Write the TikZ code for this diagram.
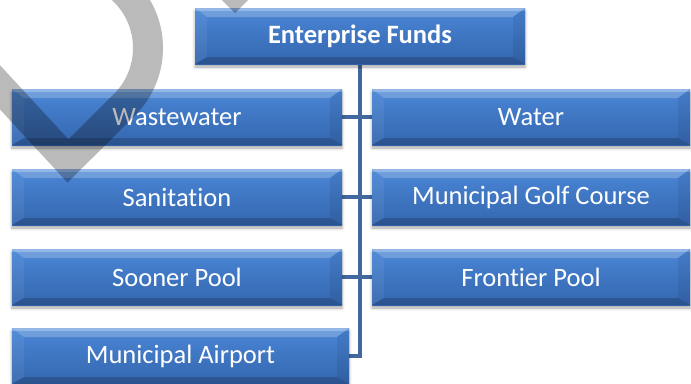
\documentclass[tikz,border=0pt]{standalone}
\usepackage{fontspec}
\setmainfont[Ligatures={NoCommon}]{Carlito}
\usetikzlibrary{shadows.blur,calc}
\definecolor{boxtop}{RGB}{74,134,214}
\definecolor{boxbot}{RGB}{52,102,174}
\definecolor{connblue}{RGB}{65,105,158}
\pgfdeclarelayer{bg}
\pgfdeclarelayer{fg}
\pgfsetlayers{bg,main,fg}
\tikzset{
  fundbox/.style={minimum width=#1, minimum height=56pt, inner sep=0pt,
    top color=boxtop, bottom color=boxbot, text=white,
    font=\fontsize{26.5}{30}\selectfont,
    blur shadow={shadow xshift=0pt, shadow yshift=-3pt, shadow blur radius=3pt, shadow opacity=35},
    path picture={
      \fill[white,opacity=0.22] (path picture bounding box.north west) -- (path picture bounding box.north east)
        -- ($(path picture bounding box.north east)+(-12pt,-9pt)$) -- ($(path picture bounding box.north west)+(12pt,-9pt)$) -- cycle;
      \fill[white,opacity=0.25] (path picture bounding box.north west) rectangle ($(path picture bounding box.north east)+(0pt,-2.5pt)$);
      \fill[white,opacity=0.06] (path picture bounding box.north west) -- (path picture bounding box.south west)
        -- ($(path picture bounding box.south west)+(12pt,7pt)$) -- ($(path picture bounding box.north west)+(12pt,-9pt)$) -- cycle;
      \fill[black,opacity=0.07] (path picture bounding box.north east) -- (path picture bounding box.south east)
        -- ($(path picture bounding box.south east)+(-12pt,7pt)$) -- ($(path picture bounding box.north east)+(-12pt,-9pt)$) -- cycle;
      \fill[black,opacity=0.18] (path picture bounding box.south west) -- (path picture bounding box.south east)
        -- ($(path picture bounding box.south east)+(-12pt,7pt)$) -- ($(path picture bounding box.south west)+(12pt,7pt)$) -- cycle;
    }},
  connline/.style={draw=connblue, line width=4.5pt},
  watermark/.style={draw=black, opacity=0.27, line width=30pt, line join=miter, miter limit=10}
}
\begin{document}
\begin{tikzpicture}[x=1pt,y=-1pt]
\useasboundingbox (0,0) rectangle (691,383);
\node[fundbox=330pt] (ef) at (360,36) {\bfseries Enterprise Funds};
\node[fundbox=330pt] (ww) at (177,117) {Wastewater};
\node[fundbox=318pt] (wa) at (531,117) {Water};
\node[fundbox=330pt] (sa) at (177,197) {Sanitation};
\node[fundbox=318pt] (gc) at (531,197) {Municipal Golf Course};
\node[fundbox=330pt] (sp) at (177,277) {Sooner Pool};
\node[fundbox=318pt] (fp) at (531,277) {Frontier Pool};
\node[fundbox=337pt] (ap) at (180.5,356) {Municipal Airport};
\begin{pgfonlayer}{bg}
\draw[connline] (ef.south) |- (ap.east);
\draw[connline] (ww.east) -- (wa.west);
\draw[connline] (sa.east) -- (gc.west);
\draw[connline] (sp.east) -- (fp.west);
\end{pgfonlayer}
\begin{pgfonlayer}{fg}
\draw[watermark] (-40,44) -- (68,161) -- (124.57,104.57) arc[start angle=45, end angle=-120, radius=80];
\draw[watermark] (190,-53) -- (235,-8) -- (280,-53);
\end{pgfonlayer}
\end{tikzpicture}
\end{document}
